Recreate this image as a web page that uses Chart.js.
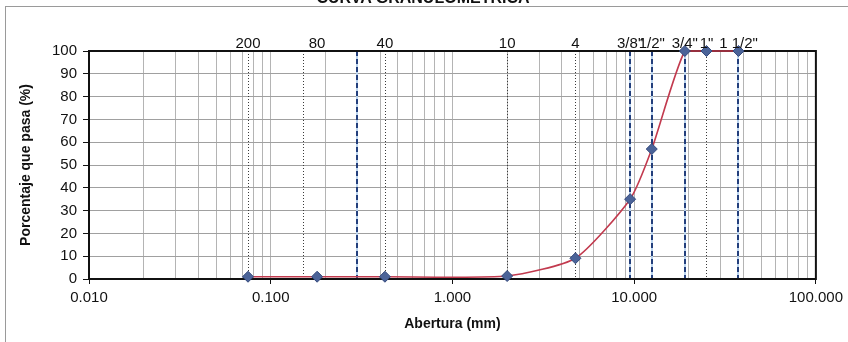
<!DOCTYPE html>
<html>
<head>
<meta charset="utf-8">
<script src="https://cdn.jsdelivr.net/npm/chart.js@4.4.1/dist/chart.umd.min.js"></script>
<style>
  html, body { margin: 0; padding: 0; background: #fff; }
  #wrap { position: relative; width: 848px; height: 342px; overflow: hidden; background: #fff; }
  #frame { position: absolute; left: 5px; top: 6px; width: 900px; height: 400px; border: 1px solid #9a9a9a; box-sizing: border-box; }
  #title { position: absolute; left: 0; top: -10px; width: 846px; text-align: center;
           font: bold 16px "Liberation Sans", Arial, sans-serif; line-height: 16px; color: #111; }
  canvas { position: absolute; left: 0; top: 0; }
</style>
</head>
<body>
<div id="wrap">
  <div id="frame"></div>
  <canvas id="chart" width="848" height="342"></canvas>
  <div id="title">CURVA GRANULOMETRICA</div>
</div>
<script>
// Sieve series: name, opening (mm) and percent passing
const sieveNames     = ['200', '80', '40', '10', '4', '3/8"', '1/2"', '3/4"', '1"', '1 1/2"'];
const openingMm      = [0.075, 0.18, 0.425, 2.0, 4.75, 9.5, 12.5, 19.0, 25.0, 37.5];
const percentPassing = [1.0, 1.0, 1.0, 1.3, 9.1, 35.0, 57.0, 100, 100, 100];

// Reference guide lines (mm)
const dottedGuideMm = [0.075, 0.15, 0.425, 2.0, 4.75, 25.0];
const dashedGuideMm = [0.3, 9.5, 12.5, 19.0, 37.5];

// Axis ticks
const xDecades = [0.01, 0.1, 1, 10, 100];
const yTicks   = [0, 10, 20, 30, 40, 50, 60, 70, 80, 90, 100];

const FONT = '"Liberation Sans", Arial, sans-serif';

const points = openingMm.map((x, i) => ({ x: x, y: percentPassing[i] }));

const isDecade = v => xDecades.some(d => Math.abs(v - d) / d < 1e-6);

const guidePlugin = {
  id: 'guides',
  beforeDatasetsDraw(chart) {
    const { ctx, chartArea: a, scales: { x } } = chart;
    ctx.save();
    ctx.beginPath();
    ctx.rect(a.left, a.top, a.right - a.left, a.bottom - a.top);
    ctx.clip();
    // thin dotted sieve lines
    ctx.strokeStyle = '#3a3a3a';
    ctx.lineWidth = 1;
    ctx.setLineDash([1, 2]);
    dottedGuideMm.forEach(v => {
      const px = Math.round(x.getPixelForValue(v)) + 0.5;
      ctx.beginPath(); ctx.moveTo(px, a.top); ctx.lineTo(px, a.bottom); ctx.stroke();
    });
    // dashed blue sieve lines
    dashedGuideMm.forEach(v => {
      const px = Math.round(x.getPixelForValue(v));
      ctx.setLineDash([]);
      ctx.strokeStyle = '#b9d3ee';
      ctx.lineWidth = 2;
      ctx.beginPath(); ctx.moveTo(px, a.top); ctx.lineTo(px, a.bottom); ctx.stroke();
      ctx.setLineDash([5, 3]);
      ctx.strokeStyle = '#233f7c';
      ctx.beginPath(); ctx.moveTo(px, a.top); ctx.lineTo(px, a.bottom); ctx.stroke();
    });
    ctx.restore();
    // plot frame
    ctx.save();
    ctx.strokeStyle = '#111';
    ctx.lineWidth = 2;
    ctx.strokeRect(a.left, a.top, a.right - a.left, a.bottom - a.top);
    ctx.restore();
  },
  afterDraw(chart) {
    const { ctx, chartArea: a, scales: { x } } = chart;
    ctx.save();
    ctx.fillStyle = '#111';
    ctx.font = '15px ' + FONT;
    ctx.textAlign = 'center';
    ctx.textBaseline = 'alphabetic';
    sieveNames.forEach((name, i) => {
      ctx.fillText(name, x.getPixelForValue(openingMm[i]), a.top - 3);
    });
    ctx.restore();
  }
};

new Chart(document.getElementById('chart'), {
  type: 'line',
  data: {
    datasets: [{
      data: points,
      borderColor: '#c23a4e',
      borderWidth: 1.6,
      tension: 0.2,
      pointStyle: 'rectRot',
      pointRadius: 5.5,
      pointBackgroundColor: '#4b6398',
      pointBorderColor: '#34497c',
      pointBorderWidth: 1,
      clip: false
    }]
  },
  options: {
    responsive: false,
    animation: false,
    layout: { padding: { left: 0, right: 27, top: 51, bottom: 0 } },
    plugins: { legend: { display: false }, tooltip: { enabled: false }, title: { display: false } },
    scales: {
      x: {
        type: 'logarithmic',
        min: 0.01,
        max: 100,
        afterBuildTicks(scale) {
          const t = [];
          xDecades.slice(0, -1).forEach(d => { for (let m = 1; m <= 9; m++) t.push({ value: +(d * m).toPrecision(6) }); });
          t.push({ value: 100 });
          scale.ticks = t;
        },
        afterFit(scale) { scale.height = 63; },
        ticks: {
          autoSkip: false,
          maxRotation: 0,
          padding: 5,
          color: '#111',
          font: { family: FONT, size: 15 },
          callback: v => isDecade(v) ? v.toFixed(3) : ''
        },
        grid: {
          color: '#b4b4b4',
          lineWidth: 1,
          tickLength: 5,
          tickColor: c => (c.tick && isDecade(c.tick.value)) ? '#111' : 'rgba(0,0,0,0)'
        },
        border: { display: false },
        title: {
          display: true,
          text: 'Abertura (mm)',
          color: '#111',
          font: { family: FONT, size: 14, weight: 'bold' },
          padding: { top: 0, bottom: 9 }
        }
      },
      y: {
        min: 0,
        max: 100,
        afterBuildTicks(scale) { scale.ticks = yTicks.map(v => ({ value: v })); },
        afterFit(scale) { scale.width = 89; },
        ticks: {
          padding: 6,
          color: '#111',
          font: { family: FONT, size: 15 }
        },
        grid: {
          color: '#a0a0a0',
          lineWidth: 1,
          tickLength: 6,
          tickColor: '#111'
        },
        border: { display: false },
        title: {
          display: true,
          text: 'Porcentaje que pasa (%)',
          color: '#111',
          font: { family: FONT, size: 14, weight: 'bold' },
          padding: { top: 18, bottom: 0 }
        }
      }
    }
  },
  plugins: [guidePlugin]
});
</script>
</body>
</html>
